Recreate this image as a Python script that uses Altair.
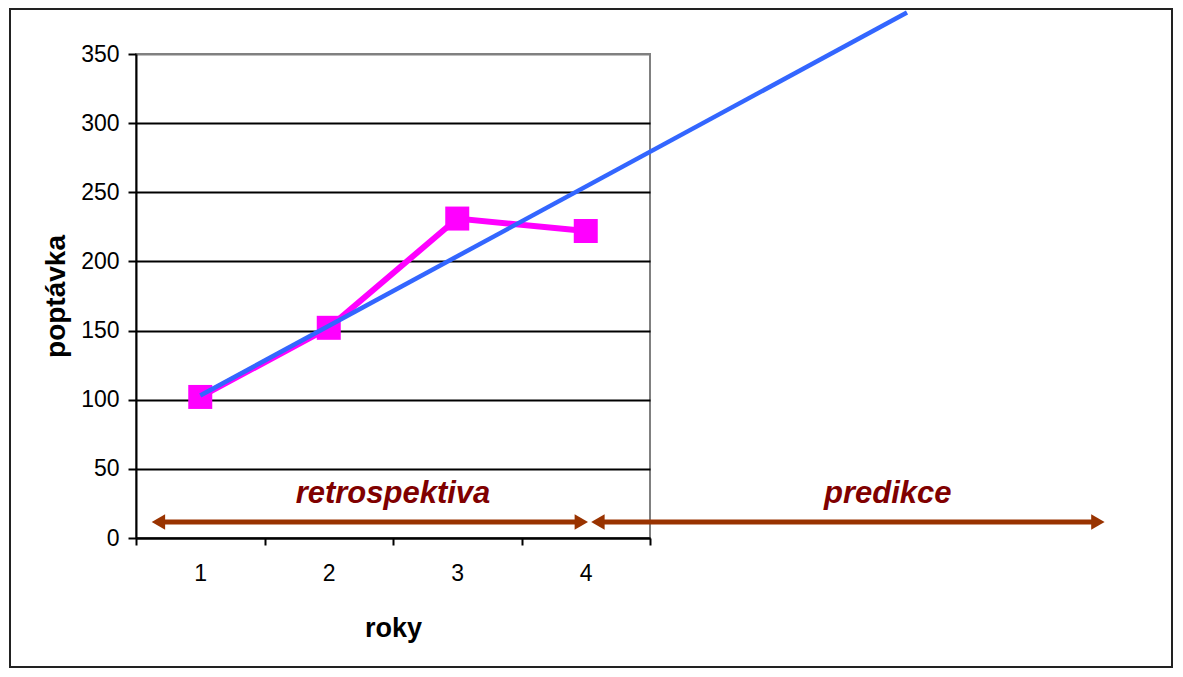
import altair as alt
import pandas as pd

# ---- data ----
years = [1, 2, 3, 4]
demand = [102, 152, 231, 222]

trend_x = [1, 6.5]
trend_y = [103, 380]

x_tick_values = [0.5, 1, 1.5, 2, 2.5, 3, 3.5, 4, 4.5]
y_tick_values = [0, 50, 100, 150, 200, 250, 300, 350]

span_labels = ["retrospektiva", "predikce"]
span_start = [0.62, 4.04]
span_end = [4.02, 8.04]
span_label_x = [2.5, 6.35]
arrow_level = 11.5
label_level = 25

# ---- layout ----
W, H = 514, 484
PX_PER_UNIT = W / 4.0
head_off = 7 / PX_PER_UNIT
FONT = "Liberation Sans"
ARROW = "#993300"

df_demand = pd.DataFrame({"x": years, "y": demand})
df_trend = pd.DataFrame({"x": trend_x, "y": trend_y})

seg_rows = []
for i, lab in enumerate(span_labels):
    seg_rows.append({"x": span_start[i] + head_off, "y": arrow_level, "seg": lab, "o": 0})
    seg_rows.append({"x": span_end[i] - head_off, "y": arrow_level, "seg": lab, "o": 1})
df_seg = pd.DataFrame(seg_rows)
df_head_l = pd.DataFrame({"x": [s + head_off for s in span_start], "y": [arrow_level] * 2})
df_head_r = pd.DataFrame({"x": [e - head_off for e in span_end], "y": [arrow_level] * 2})
df_text = pd.DataFrame({"x": span_label_x, "y": [label_level] * 2, "t": span_labels})

x_scale = alt.Scale(domain=[0.5, 4.5], nice=False, zero=False)
y_scale = alt.Scale(domain=[0, 350], nice=False, zero=False)

x_axis = alt.Axis(
    values=x_tick_values,
    labelExpr="datum.value % 1 === 0 ? format(datum.value, 'd') : ''",
    tickOpacity={"condition": {"test": "datum.value % 1 === 0", "value": 0}, "value": 1},
    tickSize=7, tickWidth=2, tickColor="black",
    domainColor="black", domainWidth=2,
    grid=False, labelOverlap=False, labelFlush=False, labelBound=False,
    labelFont=FONT, labelFontSize=23, labelColor="black", labelPadding=17,
    title="roky", titleFont=FONT, titleFontSize=27, titleFontWeight="bold",
    titleColor="black", titlePadding=30,
)
y_axis = alt.Axis(
    values=y_tick_values,
    tickSize=8, tickWidth=2, tickColor="black",
    domainColor="black", domainWidth=2,
    grid=True, gridWidth=2,
    gridColor={"condition": {"test": "datum.value >= 350", "value": "#808080"}, "value": "black"},
    labelFont=FONT, labelFontSize=23, labelColor="black", labelPadding=9,
    title="poptávka", titleFont=FONT, titleFontSize=28, titleFontWeight="bold",
    titleColor="black", titlePadding=10,
)

X = alt.X("x:Q", scale=x_scale, axis=x_axis)
Y = alt.Y("y:Q", scale=y_scale, axis=y_axis)

frame = alt.Chart(pd.DataFrame({"k": [0]})).mark_rect(
    filled=False, stroke="#222222", strokeWidth=2, clip=False
).encode(
    x=alt.value(-126), x2=alt.value(1036), y=alt.value(-45), y2=alt.value(613)
)

arrows = alt.Chart(df_seg).mark_line(color=ARROW, strokeWidth=5, clip=False).encode(
    x=X, y=Y, detail="seg:N", order="o:Q"
)
heads_l = alt.Chart(df_head_l).mark_point(
    shape="triangle-left", filled=True, size=240, color=ARROW, opacity=1, clip=False
).encode(x=X, y=Y)
heads_r = alt.Chart(df_head_r).mark_point(
    shape="triangle-right", filled=True, size=240, color=ARROW, opacity=1, clip=False
).encode(x=X, y=Y)

texts = alt.Chart(df_text).mark_text(
    font=FONT, fontSize=31, fontWeight="bold", fontStyle="italic",
    color="#800000", baseline="alphabetic", align="center", clip=False
).encode(x=X, y=Y, text="t:N")

pink_line = alt.Chart(df_demand).mark_line(color="#FF00FF", strokeWidth=6, clip=False).encode(x=X, y=Y)
pink_pts = alt.Chart(df_demand).mark_square(
    size=576, color="#FF00FF", opacity=1, filled=True, clip=False
).encode(x=X, y=Y)
trend = alt.Chart(df_trend).mark_line(color="#3366FF", strokeWidth=4.5, clip=False).encode(x=X, y=Y)

chart = alt.layer(
    frame, arrows, heads_l, heads_r, texts, pink_line, pink_pts, trend
).properties(
    width=W, height=H,
    autosize=alt.AutoSizeParams(type="none"),
    padding={"left": 128, "top": 46, "right": 524, "bottom": 130},
    background="white",
).configure_view(stroke="#808080", strokeWidth=2)

chart.save("out.html", embed_options={"renderer": "svg", "actions": False})
